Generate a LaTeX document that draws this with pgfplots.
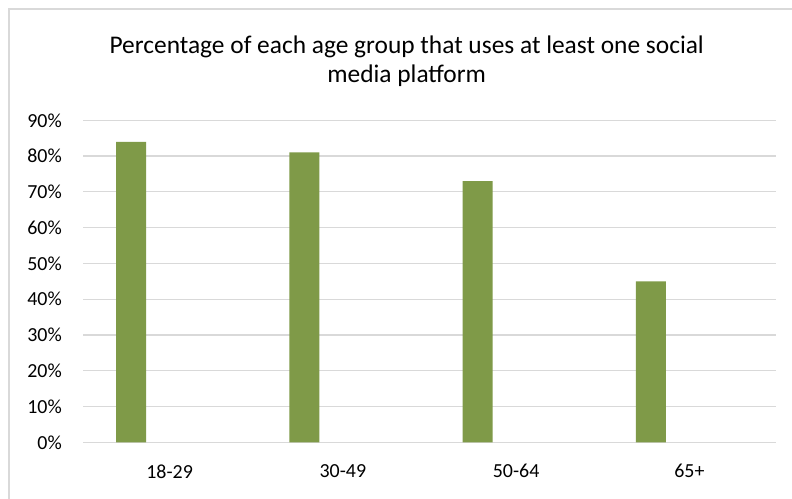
\documentclass[border=0pt]{standalone}
\usepackage{pgfplots}
\pgfplotsset{compat=1.18}
\usepackage{fontspec}
\setmainfont{Carlito}
\definecolor{barg}{RGB}{127,154,72}
\definecolor{gridc}{RGB}{217,217,217}
\begin{document}
\begin{tikzpicture}[x=1bp,y=1bp]
\path[use as bounding box] (0,0) rectangle (792,499);
\fill[white] (0,0) rectangle (792,499);
\draw[gridc, line width=1.5bp] (9,0) -- (9,490) -- (792,490);
\node[anchor=base, font=\fontsize{25.5}{30}\selectfont, inner sep=0pt] at (406.7,445.7) {Percentage of each age group that uses at least one social};
\node[anchor=base, font=\fontsize{25.5}{30}\selectfont, inner sep=0pt] at (406.7,416.7) {media platform};
\begin{axis}[
  at={(83bp,56.7bp)}, anchor=south west,
  scale only axis, width=693bp, height=322bp,
  xmin=-0.5, xmax=3.5, ymin=0, ymax=90,
  axis line style={draw=none},
  ymajorgrids, grid style={gridc, line width=1.2bp},
  major tick length=0pt,
  ytick={0,10,...,90},
  yticklabel={\pgfmathprintnumber{\tick}\%},
  xtick={0,1,2,3},
  xticklabels={18-29,30-49,50-64,65+},
  ticklabel style={font=\fontsize{20}{24}\selectfont, inner sep=0pt},
  /pgf/number format/assume math mode=true,
  yticklabel style={anchor=east, xshift=-21bp},
  xticklabel style={anchor=center, yshift=-29bp},
  ybar, bar width=30bp, bar shift=-38.5bp,
]
\addplot[fill=barg, draw=none] coordinates {(0,84) (1,81) (2,73) (3,45)};
\end{axis}
\end{tikzpicture}
\end{document}
